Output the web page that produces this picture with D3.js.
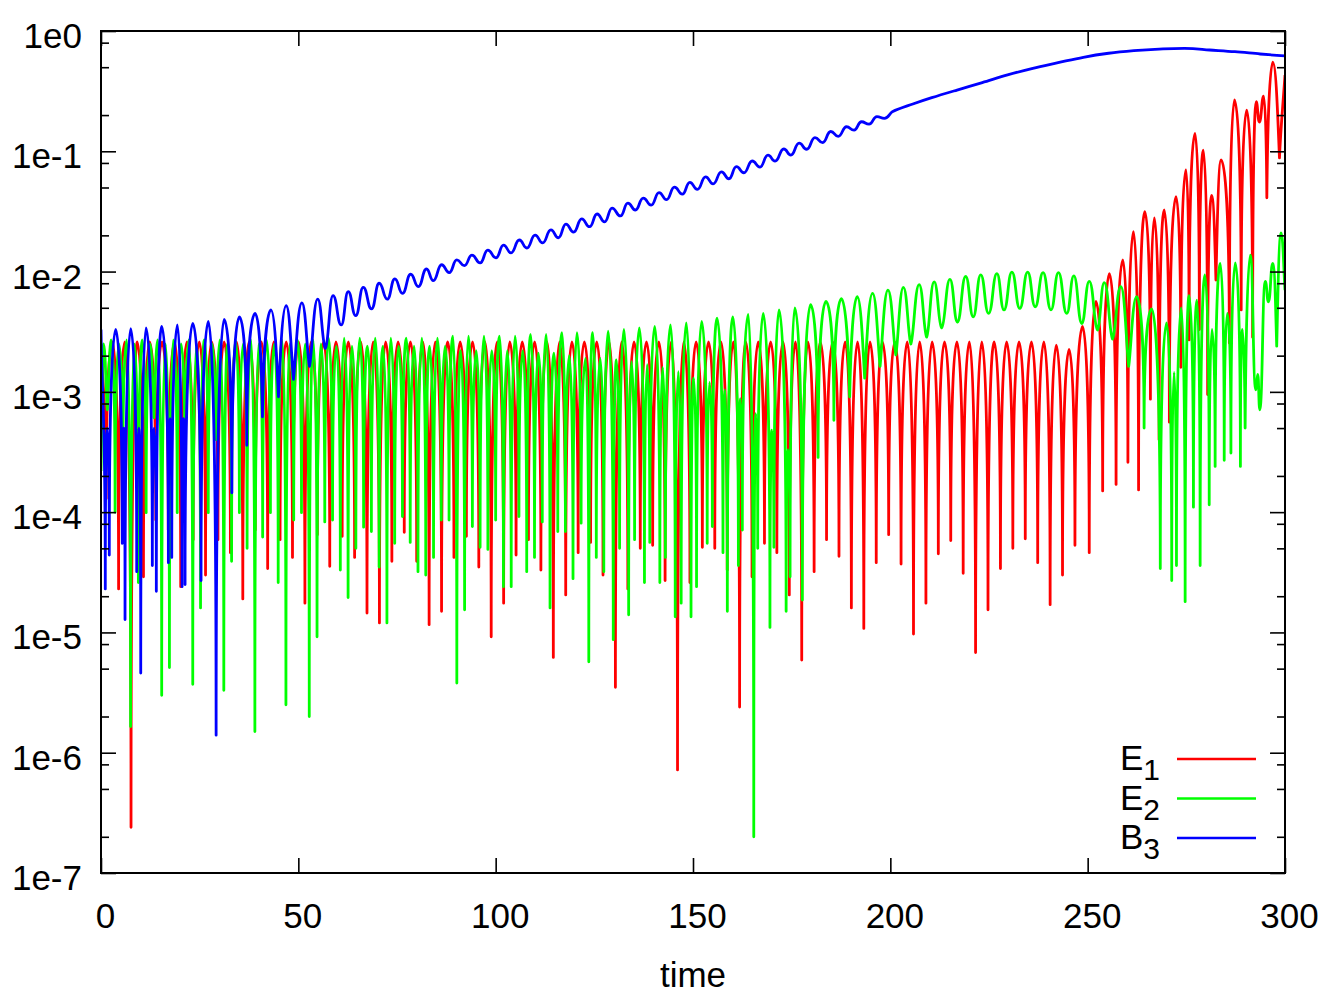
<!DOCTYPE html>
<html>
<head>
<meta charset="utf-8">
<script src="https://cdn.jsdelivr.net/npm/d3@7"></script>
<style>
  body { margin: 0; background: #fff; }
  text { font-family: "Liberation Sans", Arial, Helvetica, sans-serif; }
</style>
</head>
<body>
<script>
// Axis ticks
var xTicks = [0, 50, 100, 150, 200, 250, 300];
var yTicks = [1e0, 1e-1, 1e-2, 1e-3, 1e-4, 1e-5, 1e-6, 1e-7];
var yMinorTicks = [8e-1, 5e-1, 2e-1, 8e-2, 5e-2, 2e-2, 8e-3, 5e-3, 2e-3, 8e-4, 5e-4, 2e-4,
                   8e-5, 5e-5, 2e-5, 8e-6, 5e-6, 2e-6, 8e-7, 5e-7, 2e-7];
var legendLabels = [["E", "1"], ["E", "2"], ["B", "3"]];
var seriesColors = ["#ff0000", "#00ff00", "#0000ff"];

// E1: [time, energy] at the tops and dips
var e1 = [
  [0, 2.5e-3], [1.32, 1.3e-4], [2.89, 2.6e-3], [4.46, 2.3e-5], [6.03, 2.6e-3],
  [7.61, 2.4e-7], [9.18, 2.6e-3], [10.76, 2.9e-5], [12.33, 2.6e-3], [13.90, 8.6e-5],
  [15.47, 2.6e-3], [17.05, 7.1e-5], [18.62, 2.6e-3], [20.20, 2.4e-5], [21.77, 2.6e-3],
  [23.35, 5.9e-5], [24.92, 2.6e-3], [26.49, 3.0e-5], [28.06, 2.6e-3], [29.64, 5.9e-5],
  [31.21, 2.6e-3], [32.79, 4.6e-5], [34.36, 2.6e-3], [35.93, 1.9e-5], [37.50, 2.6e-3],
  [39.08, 7.1e-5], [40.65, 2.6e-3], [42.23, 3.4e-5], [43.80, 2.6e-3], [45.37, 5.9e-5],
  [46.94, 2.6e-3], [48.52, 4.2e-5], [50.09, 2.6e-3], [51.67, 1.75e-5], [53.24, 2.6e-3],
  [54.82, 6.5e-5], [56.39, 2.6e-3], [57.96, 3.55e-5], [59.53, 2.6e-3], [61.11, 6.3e-5],
  [62.68, 2.6e-3], [64.26, 4.2e-5], [65.83, 2.6e-3], [67.40, 1.45e-5], [68.97, 2.6e-3],
  [70.55, 1.2e-5], [72.12, 2.6e-3], [73.70, 3.9e-5], [75.27, 2.6e-3], [76.84, 6.8e-5],
  [78.41, 2.6e-3], [79.99, 3.9e-5], [81.56, 2.6e-3], [83.14, 1.16e-5], [84.71, 2.6e-3],
  [86.29, 1.5e-5], [87.86, 2.6e-3], [89.43, 4.2e-5], [91.00, 2.6e-3], [92.58, 6.3e-5],
  [94.15, 2.6e-3], [95.73, 3.5e-5], [97.30, 2.6e-3], [98.87, 9.2e-6], [100.44, 2.6e-3],
  [102.02, 1.75e-5], [103.59, 2.6e-3], [105.17, 4.4e-5], [106.74, 2.6e-3], [108.31, 5.9e-5],
  [109.88, 2.6e-3], [111.46, 3.3e-5], [113.03, 2.6e-3], [114.61, 6.2e-6], [116.18, 2.6e-3],
  [117.75, 2.05e-5], [119.32, 2.6e-3], [120.90, 4.6e-5], [122.47, 2.6e-3], [124.05, 5.6e-5],
  [125.62, 2.6e-3], [127.20, 3.0e-5], [128.77, 2.6e-3], [130.34, 3.5e-6], [131.91, 2.6e-3],
  [133.49, 2.3e-5], [135.06, 2.6e-3], [136.64, 5.0e-5], [138.21, 2.6e-3], [139.78, 5.3e-5],
  [141.35, 2.6e-3], [142.93, 2.7e-5], [144.50, 2.6e-3], [146.08, 7.2e-7], [147.65, 2.6e-3],
  [149.22, 2.6e-5], [150.79, 2.6e-3], [152.37, 5.1e-5], [153.94, 2.6e-3], [155.52, 5.0e-5],
  [157.09, 2.6e-3], [158.67, 3.3e-5], [160.24, 2.6e-3], [161.81, 2.4e-6], [163.38, 2.6e-3],
  [164.96, 2.9e-5], [166.53, 2.6e-3], [168.11, 5.5e-5], [169.68, 2.6e-3], [171.25, 4.6e-5],
  [172.82, 2.6e-3], [174.40, 2.05e-5], [175.97, 2.6e-3], [177.55, 5.9e-6], [179.12, 2.6e-3],
  [180.69, 3.2e-5], [182.26, 2.6e-3], [183.84, 5.9e-5], [185.41, 2.6e-3], [186.99, 4.3e-5],
  [188.56, 2.6e-3], [190.13, 1.6e-5], [191.70, 2.6e-3], [193.28, 1.08e-5], [194.85, 2.6e-3],
  [196.43, 3.8e-5], [198.00, 2.6e-3], [199.58, 6.5e-5], [201.15, 2.6e-3], [202.72, 3.7e-5],
  [204.29, 2.6e-3], [205.87, 9.7e-6], [207.44, 2.6e-3], [209.02, 1.75e-5], [210.59, 2.6e-3],
  [212.16, 4.5e-5], [213.73, 2.6e-3], [215.31, 5.8e-5], [216.88, 2.6e-3], [218.46, 3.1e-5],
  [220.03, 2.6e-3], [221.60, 6.8e-6], [223.17, 2.6e-3], [224.75, 1.54e-5], [226.32, 2.6e-3],
  [227.90, 3.4e-5], [229.47, 2.6e-3], [231.04, 5.0e-5], [232.61, 2.6e-3], [234.19, 6.0e-5],
  [235.76, 2.6e-3], [237.34, 3.8e-5], [238.91, 2.6e-3], [240.49, 1.7e-5], [242.05, 2.45e-3],
  [243.63, 3.0e-5], [245.3, 2.25e-3], [246.78, 5.3e-5], [248.7, 3.5e-3], [250.4, 4.6e-5],
  [252.1, 5.65e-3], [253.8, 1.5e-4], [255.5, 9.6e-3], [257.2, 1.7e-4], [258.9, 1.25e-2],
  [260.2, 2.6e-4], [261.6, 2.15e-2], [262.9, 1.53e-4], [264.5, 3.15e-2], [265.9, 8.7e-4],
  [266.9, 2.8e-2], [268.1, 4.0e-4], [269.4, 3.25e-2], [270.7, 5.6e-4], [272.4, 4.2e-2],
  [273.6, 1.6e-3], [274.9, 7.0e-2], [275.7, 2.7e-3], [277.2, 0.141], [278.3, 3.3e-3],
  [279.3, 0.102], [280.4, 9.5e-4], [281.4, 4.3e-2], [282.5, 8.5e-3], [283.8, 8.5e-2],
  [285.9, 2.55e-3], [287.2, 0.267], [288.9, 4.8e-3], [290.3, 0.22], [291.8, 2.85e-3],
  [292.7, 0.258], [293.5, 0.175], [294.6, 0.288], [295.4, 4.1e-2], [296.9, 0.55],
  [298.6, 8.8e-2], [300, 0.43]
];

// E2
var e2 = [
  [0, 2.2e-4], [0.62, 2.5e-3], [1.60, 7.1e-4], [2.58, 2.7e-3], [3.57, 1.0e-4], [4.55, 2.5e-3],
  [5.54, 3.3e-4], [6.52, 2.7e-3], [7.50, 1.65e-6], [8.48, 2.5e-3], [9.47, 2.6e-5], [10.45, 2.7e-3],
  [11.44, 9.9e-5], [12.42, 2.5e-3], [13.41, 6.1e-4], [14.39, 2.7e-3], [15.38, 3.0e-6], [16.36, 2.5e-3],
  [17.34, 5.1e-6], [18.32, 2.7e-3], [19.31, 9.9e-5], [20.29, 2.5e-3], [21.28, 3.3e-4], [22.26, 2.7e-3],
  [23.25, 3.7e-6], [24.23, 2.5e-3], [25.22, 1.6e-5], [26.20, 2.7e-3], [27.18, 9.9e-5], [28.16, 2.5e-3],
  [29.15, 4.0e-4], [30.13, 2.7e-3], [31.12, 3.3e-6], [32.10, 2.5e-3], [33.09, 3.9e-5], [34.07, 2.7e-3],
  [35.06, 9.9e-5], [36.04, 2.5e-3], [37.02, 5.0e-5], [38.00, 2.7e-3], [38.99, 1.5e-6], [39.97, 2.5e-3],
  [40.96, 6.2e-5], [41.94, 2.7e-3], [42.93, 9.9e-5], [43.91, 2.5e-3], [44.90, 2.6e-5], [45.88, 2.7e-3],
  [46.86, 2.5e-6], [47.84, 2.5e-3], [48.83, 8.6e-5], [49.81, 2.7e-3], [50.80, 9.9e-5], [51.78, 2.5e-3],
  [52.77, 2.0e-6], [53.75, 2.7e-3], [54.74, 9.2e-6], [55.72, 2.5e-3], [56.70, 8.3e-5], [57.68, 2.8e-3],
  [58.67, 8.6e-5], [59.65, 2.4e-3], [60.64, 3.3e-5], [61.62, 2.8e-3], [62.61, 1.95e-5], [63.59, 2.4e-3],
  [64.58, 5.0e-5], [65.56, 2.8e-3], [66.54, 7.5e-5], [67.52, 2.4e-3], [68.51, 6.9e-5], [69.49, 2.8e-3],
  [70.48, 3.5e-5], [71.46, 2.4e-3], [72.45, 1.2e-5], [73.43, 2.8e-3], [74.42, 5.5e-5], [75.40, 2.4e-3],
  [76.38, 9.2e-5], [77.36, 2.8e-3], [78.35, 5.6e-5], [79.33, 2.4e-3], [80.32, 3.2e-5], [81.30, 2.8e-3],
  [82.29, 3.0e-5], [83.27, 2.4e-3], [84.26, 4.2e-5], [85.24, 2.8e-3], [86.22, 8.6e-5], [87.20, 2.4e-3],
  [88.19, 8.6e-5], [89.17, 2.9e-3], [90.16, 3.8e-6], [91.14, 2.2e-3], [92.13, 1.54e-5], [93.11, 2.9e-3],
  [94.10, 7.6e-5], [95.08, 2.2e-3], [96.06, 5.1e-5], [97.04, 2.9e-3], [98.03, 4.9e-5], [99.01, 2.2e-3],
  [100.00, 8.6e-5], [100.98, 2.9e-3], [101.97, 2.4e-5], [102.95, 2.2e-3], [103.94, 2.4e-5], [104.92, 2.9e-3],
  [105.90, 9.2e-5], [106.88, 2.2e-3], [107.87, 3.2e-5], [108.85, 3.0e-3], [109.84, 4.2e-5], [110.82, 2.1e-3],
  [111.81, 8.3e-5], [112.79, 3.0e-3], [113.78, 1.6e-5], [114.76, 2.1e-3], [115.74, 6.9e-5], [116.8, 3.1e-3],
  [117.67, 6.9e-5], [118.65, 2.0e-3], [119.6, 2.8e-5], [120.6, 3.1e-3], [121.65, 8.1e-5], [122.8, 1.9e-3],
  [123.6, 5.7e-6], [124.6, 3.1e-3], [125.5, 4.2e-5], [126.5, 1.9e-3], [127.4, 3.2e-5], [128.5, 3.2e-3],
  [129.8, 8.7e-6], [130.6, 1.84e-3], [131.4, 5.0e-5], [132.5, 3.3e-3], [133.7, 1.4e-5], [134.4, 1.78e-3],
  [135.2, 5.9e-5], [136.4, 3.4e-3], [137.7, 2.6e-5], [138.4, 1.68e-3], [139.05, 5.6e-5], [140.3, 3.5e-3],
  [141.6, 2.6e-5], [142.3, 1.6e-3], [143.0, 4.2e-5], [144.3, 3.6e-3], [145.5, 1.35e-5], [146.3, 1.47e-3],
  [147.0, 1.75e-5], [148.3, 3.75e-3], [149.5, 1.35e-5], [150.2, 1.3e-3], [150.9, 2.4e-5], [152.2, 3.85e-3],
  [153.6, 5.5e-5], [154.2, 1.2e-3], [154.9, 7.6e-5], [156.1, 4.1e-3], [157.6, 4.6e-5], [158.1, 1.04e-3],
  [158.7, 1.5e-5], [160.1, 4.2e-3], [161.5, 3.6e-5], [162.0, 8.8e-4], [162.5, 7.1e-5], [164.0, 4.4e-3],
  [165.4, 2.0e-7], [165.9, 6.6e-4], [166.4, 5.0e-5], [167.8, 4.5e-3], [169.5, 1.1e-5], [170.0, 4.8e-4],
  [170.5, 5.1e-5], [171.8, 4.8e-3], [173.6, 1.5e-5], [174.1, 3.3e-4], [174.6, 2.9e-5], [175.8, 5.0e-3],
  [177.7, 1.86e-5], [179.8, 5.3e-3], [181.7, 2.85e-4], [183.7, 5.65e-3], [185.7, 5.8e-4], [187.6, 5.95e-3],
  [189.7, 9.1e-4], [191.6, 6.2e-3], [193.5, 1.3e-3], [195.5, 6.6e-3], [197.4, 1.63e-3], [199.4, 7.0e-3],
  [201.4, 2.03e-3], [203.3, 7.4e-3], [205.2, 2.5e-3], [207.3, 7.8e-3], [209.2, 2.85e-3], [211.1, 8.2e-3],
  [213.0, 3.4e-3], [215.1, 8.6e-3], [217.0, 3.8e-3], [219.1, 9.1e-3], [221.0, 4.2e-3], [222.9, 9.4e-3],
  [224.9, 4.5e-3], [227.0, 9.6e-3], [228.8, 4.8e-3], [230.8, 9.9e-3], [232.8, 4.95e-3], [234.8, 9.9e-3],
  [236.7, 5.1e-3], [238.7, 9.8e-3], [240.7, 4.8e-3], [242.6, 9.8e-3], [244.7, 4.5e-3], [246.5, 9.2e-3],
  [248.5, 3.7e-3], [250.4, 8.3e-3], [252.5, 3.27e-3], [254.2, 8.1e-3], [256.3, 2.75e-3], [258.4, 7.5e-3],
  [260.4, 1.63e-3], [262.4, 6.2e-3], [264.3, 5.0e-4], [266.2, 4.9e-3], [268.4, 3.4e-5], [270.0, 3.75e-3],
  [271.3, 2.7e-5], [271.9, 1.45e-3], [272.5, 3.6e-5], [273.7, 5.0e-3], [274.7, 1.8e-5], [275.7, 6.3e-3],
  [276.8, 1.1e-4], [277.7, 5.8e-3], [278.5, 3.6e-5], [279.7, 9.4e-3], [280.8, 1.15e-4], [281.5, 3.3e-3],
  [282.3, 2.4e-4], [283.6, 1.17e-2], [284.6, 2.7e-4], [285.4, 4.5e-3], [286.3, 3.1e-4], [287.4, 1.18e-2],
  [288.7, 2.4e-4], [289.2, 3.3e-3], [289.9, 5.0e-4], [291.2, 1.37e-2], [292.6, 1.04e-3], [293.1, 1.4e-3],
  [293.6, 7.1e-4], [295.0, 8.3e-3], [295.8, 5.6e-3], [296.9, 1.17e-2], [297.9, 2.4e-3], [299.0, 2.1e-2],
  [300, 7.0e-3]
];

// B3
var b3 = [
  [0, 3.3e-3], [1.09, 2.3e-5], [1.6, 5e-4], [2.1, 4.4e-5], [3.73, 3.3e-3],
  [5.4, 5.5e-5], [5.75, 5e-4], [6.09, 1.28e-5], [7.53, 3.35e-3],
  [9.05, 3.2e-5], [9.55, 5e-4], [10.07, 4.6e-6], [11.41, 3.4e-3],
  [13.01, 3.6e-5], [13.5, 5e-4], [14.02, 2.2e-5], [15.39, 3.5e-3],
  [17.07, 3.8e-5], [17.5, 6e-4], [17.93, 4.2e-5], [19.35, 3.6e-3],
  [20.54, 2.4e-5], [20.92, 6e-4], [21.3, 2.5e-5], [23.26, 3.7e-3],
  [25.35, 2.7e-5], [27.2, 3.85e-3], [29.17, 1.4e-6], [31.2, 4.0e-3],
  [33.15, 1.45e-4], [35.07, 4.2e-3], [36.95, 3.6e-4], [39.06, 4.5e-3],
  [40.9, 6.2e-4], [43.04, 4.8e-3], [44.97, 9.1e-4], [46.92, 5.2e-3],
  [48.77, 1.27e-3], [50.9, 5.5e-3], [52.83, 1.63e-3], [54.9, 5.9e-3],
  [56.86, 2.3e-3], [58.79, 6.3e-3], [60.87, 3.6e-3], [62.64, 6.8e-3],
  [64.54, 4.3e-3], [66.45, 7.4e-3], [68.55, 4.9e-3], [70.48, 8.0e-3],
  [72.53, 5.9e-3], [74.46, 8.7e-3], [76.39, 6.6e-3], [78.47, 9.5e-3],
  [80.4, 7.5e-3], [82.47, 1.05e-2], [84.2, 8.4e-3], [86.3, 1.14e-2],
  [88.23, 9.8e-3], [90.16, 1.25e-2], [92.06, 1.12e-2], [93.99, 1.37e-2],
  [96.07, 1.18e-2], [98.0, 1.51e-2], [100.08, 1.30e-2], [102.0, 1.66e-2],
  [103.9, 1.43e-2], [106.0, 1.83e-2], [107.9, 1.57e-2], [110.0, 2.01e-2],
  [111.9, 1.73e-2], [114.0, 2.22e-2], [115.9, 1.91e-2], [117.8, 2.48e-2],
  [119.75, 2.13e-2], [121.8, 2.74e-2], [123.8, 2.36e-2], [125.7, 3.01e-2],
  [127.6, 2.59e-2], [129.5, 3.37e-2], [131.6, 2.90e-2], [133.5, 3.71e-2],
  [135.4, 3.25e-2], [137.4, 4.08e-2], [139.4, 3.57e-2], [141.4, 4.54e-2],
  [143.3, 3.97e-2], [145.3, 5.03e-2], [147.3, 4.40e-2], [149.2, 5.52e-2],
  [151.1, 4.83e-2], [153.2, 6.13e-2], [155.1, 5.36e-2], [157.2, 6.75e-2],
  [159.1, 5.91e-2], [161.0, 7.45e-2], [162.9, 6.63e-2], [165.0, 8.3e-2],
  [166.95, 7.39e-2], [169.0, 9.3e-2], [170.8, 8.28e-2], [173.0, 0.1045],
  [174.8, 9.3e-2], [176.9, 0.117], [178.8, 0.104], [180.9, 0.130],
  [182.85, 0.118], [184.9, 0.146], [186.8, 0.133], [188.9, 0.160],
  [190.8, 0.150], [192.7, 0.176], [194.6, 0.168], [196.6, 0.194],
  [198.5, 0.188], [200.5, 0.213], [205.7, 0.247], [210.5, 0.279],
  [216.9, 0.323], [223.3, 0.372], [229.7, 0.431], [236.1, 0.49],
  [242.5, 0.545], [248.9, 0.605], [255.3, 0.653], [261.7, 0.686],
  [268.1, 0.708], [274.5, 0.718], [280.9, 0.695], [287.3, 0.673],
  [293.7, 0.644], [300, 0.62]
];

var seriesData = [e1, e2, b3];

// Set the dimensions and margins of the graph
var margin = {top: 31, right: 49, bottom: 127, left: 101},
    width = 1334 - margin.left - margin.right,
    height = 1000 - margin.top - margin.bottom;

var svg = d3.select("body")
  .append("svg")
    .attr("width", width + margin.left + margin.right)
    .attr("height", height + margin.top + margin.bottom)
  .append("g")
    .attr("transform", "translate(" + margin.left + "," + margin.top + ")");

var x = d3.scaleLinear().domain([0, 300]).range([0, width]);
var y = d3.scaleLog().domain([1e-7, 1]).range([height, 0]);

// Curve: round tops, needle-like dips when a dip is deep, smooth otherwise
function handle(P, Q, k, dx, dir) {
  if (k.type === "mid") return [P[0] + dir * dx / 3, P[1] + dir * k.m * dx / 3];
  var h = [P[0] + dir * 0.5 * dx, P[1]];
  if (k.type === "peak") return h;
  var v = [P[0], P[1] + 0.7 * (Q[1] - P[1])];
  return [h[0] + (v[0] - h[0]) * k.f, h[1] + (v[1] - h[1]) * k.f];
}
function PeakCurve(context) { this._context = context; }
PeakCurve.prototype = {
  areaStart: function() {},
  areaEnd: function() {},
  lineStart: function() { this._pts = []; },
  point: function(px, py) { this._pts.push([+px, +py]); },
  lineEnd: function() {
    var p = this._pts, n = p.length, ctx = this._context;
    if (!n) return;
    ctx.moveTo(p[0][0], p[0][1]);
    var info = p.map(function(q, i) {
      var a = p[Math.max(i - 1, 0)], b = p[Math.min(i + 1, n - 1)];
      if (i > 0 && i < n - 1) {
        if (q[1] <= a[1] && q[1] <= b[1]) return {type: "peak"};
        if (q[1] >= a[1] && q[1] >= b[1]) {
          var depth = Math.min(q[1] - a[1], q[1] - b[1]);
          return {type: "dip", f: Math.max(0, Math.min(1, (depth - 40) / 80))};
        }
      }
      return {type: "mid", m: (b[1] - a[1]) / (b[0] - a[0])};
    });
    for (var i = 0; i < n - 1; i++) {
      var A = p[i], B = p[i + 1], dx = B[0] - A[0];
      var c1 = handle(A, B, info[i], dx, 1),
          c2 = handle(B, A, info[i + 1], dx, -1);
      ctx.bezierCurveTo(c1[0], c1[1], c2[0], c2[1], B[0], B[1]);
    }
  }
};
function curvePeaks(context) { return new PeakCurve(context); }

var line = d3.line()
  .x(function(d) { return x(d[0]); })
  .y(function(d) { return y(d[1]); })
  .curve(curvePeaks);

svg.append("clipPath").attr("id", "clip")
  .append("rect").attr("width", width).attr("height", height);

// Lines
svg.append("g").attr("clip-path", "url(#clip)")
  .selectAll("path")
  .data(seriesData)
  .enter()
  .append("path")
    .attr("d", line)
    .attr("fill", "none")
    .attr("stroke", function(d, i) { return seriesColors[i]; })
    .attr("stroke-width", 2.8)
    .attr("stroke-linejoin", "round");

// Axes (ticks point inward, on all four sides)
function styleAxis(g) {
  g.select(".domain").remove();
  g.selectAll("line").attr("stroke", "#000").attr("stroke-width", 1.6);
  g.selectAll("text").attr("font-family", "'Liberation Sans', Arial, Helvetica, sans-serif")
    .attr("font-size", 35).attr("fill", "#000");
}

svg.append("g")
  .call(d3.axisLeft(y).tickValues(yTicks).tickSize(-15).tickPadding(19)
    .tickFormat(function(d) { return "1e" + Math.round(Math.log10(d)); }))
  .call(styleAxis)
  .selectAll("text").attr("dy", "0.47em");

svg.append("g")
  .call(d3.axisLeft(y).tickValues(yMinorTicks).tickSize(-8).tickFormat(""))
  .call(styleAxis);

svg.append("g")
  .attr("transform", "translate(" + width + ",0)")
  .call(d3.axisRight(y).tickValues(yTicks).tickSize(-15).tickFormat(""))
  .call(styleAxis);

svg.append("g")
  .attr("transform", "translate(" + width + ",0)")
  .call(d3.axisRight(y).tickValues(yMinorTicks).tickSize(-8).tickFormat(""))
  .call(styleAxis);

svg.append("g")
  .attr("transform", "translate(0," + height + ")")
  .call(d3.axisBottom(x).tickValues(xTicks).tickSize(-15).tickPadding(30))
  .call(styleAxis)
  .selectAll("text").attr("dx", 4);

svg.append("g")
  .call(d3.axisTop(x).tickValues(xTicks).tickSize(-15).tickFormat(""))
  .call(styleAxis);

// Frame
svg.append("rect")
  .attr("width", width)
  .attr("height", height)
  .attr("fill", "none")
  .attr("stroke", "#000")
  .attr("stroke-width", 2);

// X axis title
svg.append("text")
  .attr("x", width / 2)
  .attr("y", height + 114)
  .attr("text-anchor", "middle")
  .attr("font-size", 35)
  .text("time");

// Legend
var legend = svg.append("g").selectAll("g")
  .data(legendLabels)
  .enter()
  .append("g")
    .attr("transform", function(d, i) { return "translate(0," + (i * 39.5) + ")"; });

var label = legend.append("text")
  .attr("x", 1059)
  .attr("y", 739)
  .attr("text-anchor", "end")
  .attr("font-size", 35);
label.append("tspan").text(function(d) { return d[0]; });
label.append("tspan").attr("dy", 10).attr("font-size", 30).text(function(d) { return d[1]; });

legend.append("line")
  .attr("x1", 1076).attr("x2", 1155)
  .attr("y1", 728).attr("y2", 728)
  .attr("stroke", function(d, i) { return seriesColors[i]; })
  .attr("stroke-width", 2.7);
</script>
</body>
</html>
